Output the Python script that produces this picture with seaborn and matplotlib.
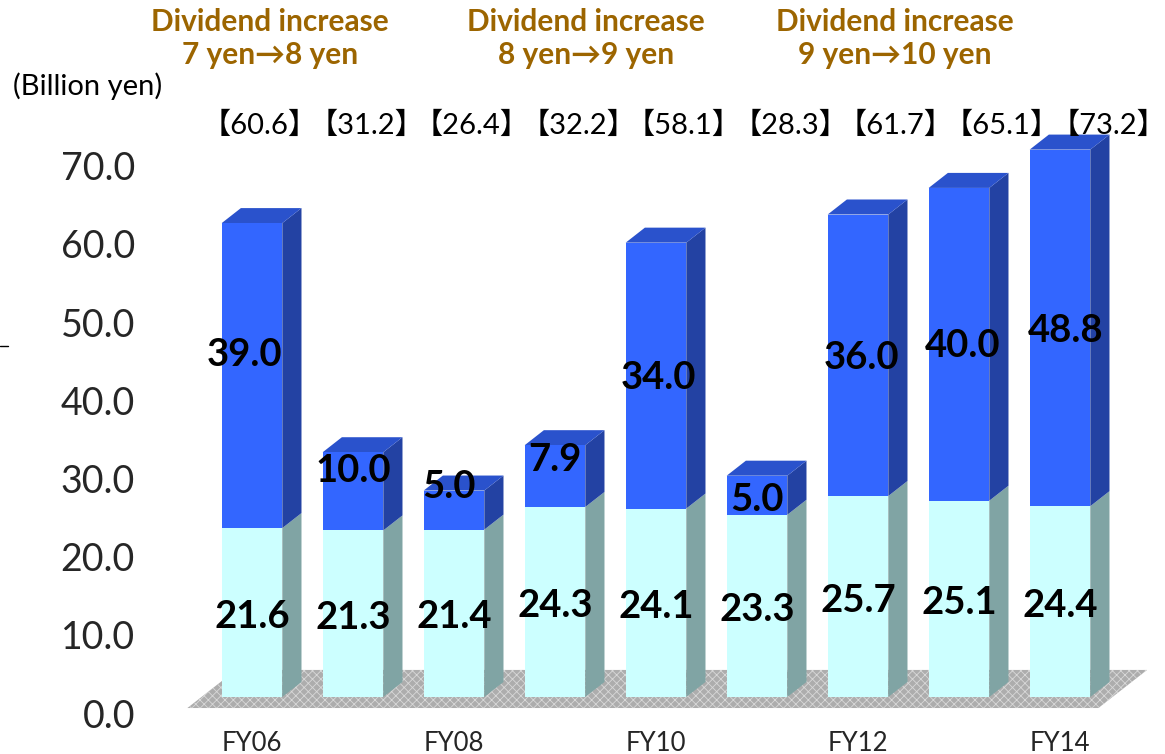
import numpy as np
import pandas as pd
import matplotlib
matplotlib.use("Agg")
import matplotlib.pyplot as plt
import seaborn as sns
from matplotlib.patches import Polygon
from matplotlib.lines import Line2D
from matplotlib.transforms import Bbox, TransformedBbox

# ---- data -------------------------------------------------------------
years = ["FY06", "FY07", "FY08", "FY09", "FY10", "FY11", "FY12", "FY13", "FY14"]
dividends = [21.6, 21.3, 21.4, 24.3, 24.1, 23.3, 25.7, 25.1, 24.4]
buybacks = [39.0, 10.0, 5.0, 7.9, 34.0, 5.0, 36.0, 40.0, 48.8]
totals = [60.6, 31.2, 26.4, 32.2, 58.1, 28.3, 61.7, 65.1, 73.2]
labelled_years = ["FY06", "FY08", "FY10", "FY12", "FY14"]
tick_values = [0, 10, 20, 30, 40, 50, 60, 70]
headers = [
    "Dividend increase\n7 yen\u21928 yen",
    "Dividend increase\n8 yen\u21929 yen",
    "Dividend increase\n9 yen\u219210 yen",
]
unit_label = "(Billion yen)"

# ---- styling ----------------------------------------------------------
W, H = 1165, 754
BLUE_FRONT, BLUE_SIDE, BLUE_TOP = "#3366FF", "#2342A3", "#2A52CC"
CYAN_FRONT, CYAN_SIDE = "#CCFFFF", "#80A4A4"
HEADER_COLOR = "#9C6500"
FONT = ["Lato", "DejaVu Sans"]
BRACKET_FONT = ["Lato", "Noto Sans CJK JP", "DejaVu Sans"]

PX_PER_UNIT = 7.82             # vertical scale of the value axis
VALUE_MAX = 70.0               # top of the value axis; taller bars are cut here
DEPTH_X, DEPTH_Y = 0.19, 1.92  # 3-D extrusion of each bar (x in categories, y in values)
WALL_DROP = 2.05               # tick labels sit on the back wall, below the bar base
BAR_WIDTH = 0.6

# where the buyback labels sit relative to their segment centre (px)
label_nudges = [(-7, 21), (0, 20), (-5, 23), (0, 16), (2, -2),
                (0, -5), (4, -3), (4, -2), (6, -16)]

sns.set_theme(style="white")
plt.rcParams["font.family"] = FONT
plt.rcParams["hatch.linewidth"] = 0.6

fig = plt.figure(figsize=(W / 100, H / 100), dpi=100)

# axes frame: category 0 centred at x=252 px, 101 px per category,
# value 0 at y=697 px from the top
ax_left, ax_right = 150, 1160
y_lo, y_hi = -4.0, 76.0
ax_bottom = (H - 697) - (0 - y_lo) * PX_PER_UNIT
ax_height = (y_hi - y_lo) * PX_PER_UNIT
ax = fig.add_axes([ax_left / W, ax_bottom / H, (ax_right - ax_left) / W, ax_height / H])

df = pd.DataFrame({
    "year": years,
    "dividends": dividends,
    "stack_top": np.array(dividends) + np.array(buybacks),
})

# front faces: full stack in blue, dividend part in cyan on top of it
sns.barplot(data=df, x="year", y="stack_top", color=BLUE_FRONT, saturation=1,
            width=BAR_WIDTH, linewidth=0, ax=ax, zorder=3)
sns.barplot(data=df, x="year", y="dividends", color=CYAN_FRONT, saturation=1,
            width=BAR_WIDTH, linewidth=0, ax=ax, zorder=3)

n = len(years)
blue_bars = ax.patches[:n]
cyan_bars = ax.patches[n:2 * n]

# the plot area ends at VALUE_MAX: anything above is cut off
clip_box = TransformedBbox(Bbox([[-5, -10], [n + 5, VALUE_MAX]]), ax.transData)
for p in blue_bars:
    p.set_clip_box(clip_box)

# floor slab under the bars
floor_front, floor_back = -1.41, 3.46
floor_skew = (floor_back - floor_front) * DEPTH_X / DEPTH_Y
fl, fr = -0.64, (n - 1) + 0.38
floor = Polygon([(fl, floor_front), (fr, floor_front),
                 (fr + floor_skew, floor_back), (fl + floor_skew, floor_back)],
                closed=True, facecolor="#ADADAD", edgecolor="#D8D8D8",
                hatch="xxxx", linewidth=0, zorder=1)
ax.add_patch(floor)

# side and top faces of each 3-D bar
for bb, cb in zip(blue_bars, cyan_bars):
    x0 = bb.get_x()
    x1 = x0 + bb.get_width()
    top = min(bb.get_height(), VALUE_MAX)
    low = cb.get_height()
    ax.add_patch(Polygon([(x1, 0), (x1 + DEPTH_X, DEPTH_Y),
                          (x1 + DEPTH_X, low + DEPTH_Y), (x1, low)],
                         closed=True, facecolor=CYAN_SIDE, linewidth=0, zorder=2))
    ax.add_patch(Polygon([(x1, low), (x1 + DEPTH_X, low + DEPTH_Y),
                          (x1 + DEPTH_X, top + DEPTH_Y), (x1, top)],
                         closed=True, facecolor=BLUE_SIDE, linewidth=0, zorder=2))
    ax.add_patch(Polygon([(x0, top), (x0 + DEPTH_X, top + DEPTH_Y),
                          (x1 + DEPTH_X, top + DEPTH_Y), (x1, top)],
                         closed=True, facecolor=BLUE_TOP, linewidth=0, zorder=2))

# value labels
for i, (d, b) in enumerate(zip(dividends, buybacks)):
    ax.annotate(f"{d:.1f}", xy=(i, d / 2), xytext=(0, -3),
                textcoords="offset points", ha="center", va="center",
                fontsize=27.5, fontweight="bold", color="black", zorder=5)
    dx, dy = label_nudges[i]
    ax.annotate(f"{b:.1f}", xy=(i, d + b / 2), xytext=(dx * 0.72, dy * 0.72),
                textcoords="offset points", ha="center", va="center",
                fontsize=27.5, fontweight="bold", color="black", zorder=5)

# axes styling
ax.set_xlim((ax_left - 252) / 101, (ax_right - 252) / 101)
ax.set_ylim(y_lo, y_hi)
for s in ax.spines.values():
    s.set_visible(False)
ax.set_xlabel("")
ax.set_ylabel("")
ax.set_xticks([years.index(y) for y in labelled_years])
ax.set_xticklabels(labelled_years, fontsize=18.5)
ax.set_yticks([v - WALL_DROP for v in tick_values])
ax.set_yticklabels([f"{v:.1f}" for v in tick_values], fontsize=27)
ax.tick_params(axis="y", length=0, pad=10.8)
ax.tick_params(axis="x", length=0, pad=2)
ax.grid(False)

# header annotations
header_x = [270, 586, 895]
for hx, txt in zip(header_x, headers):
    fig.text(hx / W, 1 - 38.5 / H, txt, ha="center", va="center", fontsize=21.5,
             fontweight="bold", color=HEADER_COLOR, linespacing=1.24)

# row of bracketed totals above the bars
for i, t in enumerate(totals):
    fig.text((260 + 106 * i) / W, 1 - 125 / H, f"\u3010{t:.1f}\u3011",
             ha="center", va="center", fontsize=21, family=BRACKET_FONT,
             color="black")

fig.text(13 / W, 1 - 86 / H, unit_label, ha="left", va="center", fontsize=21,
         color="black")

fig.add_artist(Line2D([0 / W, 8 / W], [1 - 346 / H, 1 - 346 / H],
                      color="black", linewidth=1.0))

fig.savefig("out.png", dpi=100)
